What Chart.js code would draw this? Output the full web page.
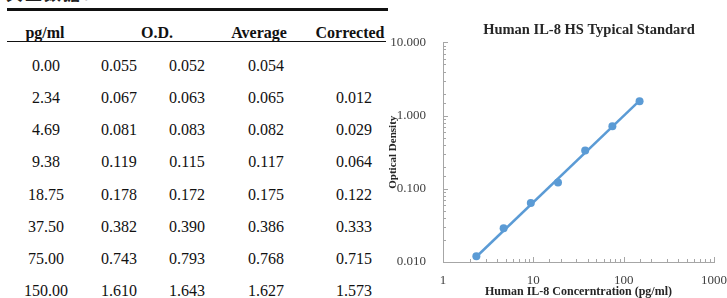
<!DOCTYPE html>
<html>
<head>
<meta charset="utf-8">
<script src="https://cdn.jsdelivr.net/npm/chart.js@4"></script>
<style>
  html, body { margin: 0; padding: 0; background: #fff; }
  body { width: 727px; height: 298px; overflow: hidden; position: relative; }
  .tabla { position: absolute; left: 0; top: 0; width: 390px; height: 298px;
           font-family: "Liberation Serif", "Times New Roman", serif; font-size: 16px; color: #111; }
  .celda { position: absolute; transform: translate(-50%, -50%); white-space: nowrap; }
  .cab { font-weight: bold; }
  .linea { position: absolute; left: 7px; background: #111; }
  .frag { position: absolute; left: 6px; top: -20px; font-family: "Noto Sans CJK SC", sans-serif;
          font-weight: bold; font-size: 17px; color: #222; letter-spacing: 2px; }
  #grafico-wrap { position: absolute; left: 380px; top: 0; width: 418px; height: 298px; }
</style>
</head>
<body>
<div class="tabla" id="tabla">
  <div class="frag">典型数据：</div>
  <div class="linea" style="top:8px;height:3px;width:381px"></div>
  <div class="linea" style="top:41px;height:1px;width:379px"></div>
</div>
<div id="grafico-wrap"><canvas id="grafico"></canvas></div>

<script>
// Datos de la curva estándar
const concentraciones = [0, 2.34, 4.69, 9.38, 18.75, 37.5, 75, 150];
const odLectura1 = [0.055, 0.067, 0.081, 0.119, 0.178, 0.382, 0.743, 1.610];
const odLectura2 = [0.052, 0.063, 0.083, 0.115, 0.172, 0.390, 0.793, 1.643];
const promedios = [0.054, 0.065, 0.082, 0.117, 0.175, 0.386, 0.768, 1.627];
const corregidos = [null, 0.012, 0.029, 0.064, 0.122, 0.333, 0.715, 1.573];

// Extremos de la recta de ajuste, tal como se ve en la figura
const ajusteX = [2.34, 150];
const ajusteY = [0.0118, 1.6];

const encabezados = ['pg/ml', 'O.D.', 'Average', 'Corrected'];
const etiquetasY = ['0.010', '0.100', '1.000', '10.000'];
const etiquetasX = ['1', '10', '100', '1000'];

// ---- Tabla de la izquierda ----
const tabla = document.getElementById('tabla');
const colX = [46, 119, 187, 266, 354];
const filaY0 = 66, filaPaso = 32.15;

function celda(texto, x, y, clase) {
  const d = document.createElement('div');
  d.className = 'celda' + (clase ? ' ' + clase : '');
  d.style.left = x + 'px';
  d.style.top = y + 'px';
  d.textContent = texto;
  tabla.appendChild(d);
}

celda(encabezados[0], 45, 33, 'cab');
celda(encabezados[1], 157, 33, 'cab');
celda(encabezados[2], 259, 33, 'cab');
celda(encabezados[3], 350, 33, 'cab');

concentraciones.forEach((c, i) => {
  const y = filaY0 + i * filaPaso;
  celda(c.toFixed(2), colX[0], y);
  celda(odLectura1[i].toFixed(3), colX[1], y);
  celda(odLectura2[i].toFixed(3), colX[2], y);
  celda(promedios[i].toFixed(3), colX[3], y);
  if (corregidos[i] !== null) celda(corregidos[i].toFixed(3), colX[4], y);
});

// ---- Gráfico de la derecha ----
const puntos = concentraciones
  .map((c, i) => ({ x: c, y: corregidos[i] }))
  .filter(p => p.y !== null);
const recta = ajusteX.map((x, i) => ({ x: x, y: ajusteY[i] }));

const esPotencia = v => Math.abs(Math.log10(v) - Math.round(Math.log10(v))) < 1e-6;

// marcas pequeñas hacia dentro del área, como en Excel
const marcasInternas = {
  id: 'marcasInternas',
  beforeDatasetsDraw(chart) {
    const ctx = chart.ctx;
    const sx = chart.scales.x, sy = chart.scales.y;
    ctx.save();
    ctx.strokeStyle = '#a6a6a6';
    ctx.lineWidth = 1;
    ctx.beginPath();
    sx.ticks.forEach(t => {
      const px = Math.round(sx.getPixelForValue(t.value)) + 0.5;
      const largo = esPotencia(t.value) ? 5 : 3;
      ctx.moveTo(px, sy.bottom);
      ctx.lineTo(px, sy.bottom - largo);
    });
    sy.ticks.forEach(t => {
      const py = Math.round(sy.getPixelForValue(t.value)) + 0.5;
      const largo = esPotencia(t.value) ? 5 : 3;
      ctx.moveTo(sx.left, py);
      ctx.lineTo(sx.left + largo, py);
    });
    ctx.stroke();
    ctx.restore();
  }
};

const fuenteSerif = '"Liberation Serif", "Times New Roman", serif';

new Chart(document.getElementById('grafico'), {
  type: 'scatter',
  data: {
    datasets: [{
      label: 'Ajuste',
      data: recta,
      showLine: true,
      borderColor: '#5b9bd5',
      borderWidth: 2.5,
      pointRadius: 0
    }, {
      label: 'Corrected',
      data: puntos,
      showLine: false,
      backgroundColor: '#5b9bd5',
      borderColor: '#5b9bd5',
      pointRadius: 4,
      pointBorderWidth: 0
    }]
  },
  options: {
    responsive: true,
    maintainAspectRatio: false,
    animation: false,
    layout: { padding: 0 },
    plugins: {
      legend: { display: false },
      tooltip: { enabled: false },
      title: {
        display: true,
        text: 'Human IL-8 HS Typical Standard',
        color: '#262626',
        font: { family: fuenteSerif, size: 14.5, weight: 'bold', lineHeight: 1.2 },
        padding: { top: 22, bottom: 3 }
      }
    },
    scales: {
      x: {
        type: 'logarithmic',
        min: 1,
        max: 1000,
        grid: { display: false },
        border: { display: true, color: '#a6a6a6', width: 1 },
        ticks: {
          autoSkip: false,
          maxRotation: 0,
          padding: 3,
          color: '#404040',
          font: { family: fuenteSerif, size: 13 },
          callback: v => esPotencia(v) ? etiquetasX[Math.round(Math.log10(v))] : ''
        },
        title: {
          display: true,
          text: 'Human IL-8 Concerntration (pg/ml)',
          color: '#262626',
          font: { family: fuenteSerif, size: 12, weight: 'bold', lineHeight: 1 },
          padding: { top: 0, bottom: 0 }
        },
        afterFit: s => { s.height = 36; }
      },
      y: {
        type: 'logarithmic',
        min: 0.01,
        max: 10,
        grid: { display: false },
        border: { display: true, color: '#a6a6a6', width: 1 },
        ticks: {
          autoSkip: false,
          padding: 9,
          color: '#404040',
          font: { family: fuenteSerif, size: 13 },
          callback: v => esPotencia(v) ? etiquetasY[Math.round(Math.log10(v)) + 2] : ''
        },
        title: {
          display: true,
          text: 'Optical Density',
          color: '#262626',
          font: { family: fuenteSerif, size: 11, weight: 'bold', lineHeight: 1.2 },
          padding: { top: 7, bottom: 0 }
        },
        afterFit: s => { s.width = 63; }
      },
      // eje vacío a la derecha: solo reserva espacio (el gráfico sigue fuera de la ventana)
      margen: {
        type: 'linear',
        position: 'right',
        display: true,
        grid: { display: false },
        border: { display: false },
        ticks: { display: false },
        afterFit: s => { s.width = 84; }
      }
    }
  },
  plugins: [marcasInternas]
});
</script>
</body>
</html>
